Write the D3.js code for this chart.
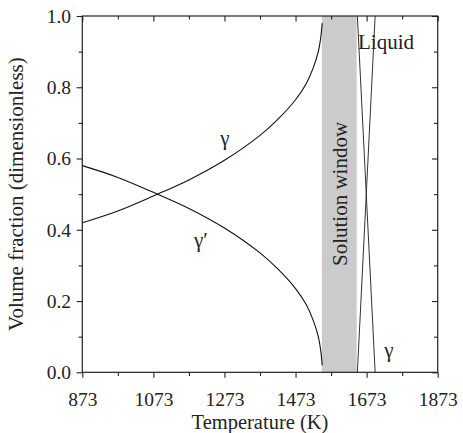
<!DOCTYPE html>
<html>
<head>
<meta charset="utf-8">
<script src="https://cdn.jsdelivr.net/npm/d3@7"></script>
<style>
    body { margin: 0; background: #fff; }
    svg { display: block; }
    svg text { font-family: "Liberation Serif", "Times New Roman", "DejaVu Serif", serif; }
    .axis path, .axis line { stroke: #222; stroke-width: 1.1; }
    .axis text { font-size: 19.5px; fill: #222; }
</style>
</head>
<body>
<div class="chart"></div>
<script>
// values
const gammaT = [873, 973, 1073, 1173, 1273, 1373, 1423, 1473, 1503, 1523, 1537, 1544, 1548];
const gammaV = [0.42, 0.453, 0.495, 0.54, 0.595, 0.665, 0.71, 0.765, 0.81, 0.855, 0.90, 0.94, 0.98];
const gammaPrimeV = [0.58, 0.547, 0.505, 0.46, 0.405, 0.335, 0.29, 0.235, 0.19, 0.145, 0.10, 0.06, 0.02];

const solutionWindow = [1547, 1645];

const meltT = [1647, 1697];
const liquidV = [0, 1];
const gammaMeltV = [1, 0];

const xTicks = [873, 1073, 1273, 1473, 1673, 1873];
const xMinor = [973, 1173, 1373, 1573, 1773];
const yTicks = [0, 0.2, 0.4, 0.6, 0.8, 1.0];
const yMinor = [0.1, 0.3, 0.5, 0.7, 0.9];

const width = 463, height = 433;
const margin = { top: 16, right: 25.3, bottom: 60.7, left: 82.3 };

const svg = d3.select('.chart')
    .append('svg')
    .attr('width', width)
    .attr('height', height);

const x = d3.scaleLinear().domain([873, 1873]).range([margin.left, width - margin.right]);
const y = d3.scaleLinear().domain([0, 1]).range([height - margin.bottom, margin.top]);

// solution window band
svg.append('rect')
    .attr('x', x(solutionWindow[0]))
    .attr('y', y(1))
    .attr('width', x(solutionWindow[1]) - x(solutionWindow[0]))
    .attr('height', y(0) - y(1))
    .attr('fill', '#cbcbcb');

/**
 * draws one axis with major and minor ticks
 */
function drawAxis(axisFn, scale, transform, major, minor, size, fmt, pad) {
    const g = svg.append('g').attr('class', 'axis').attr('transform', transform);
    g.call(axisFn(scale).tickValues(major).tickSize(size).tickPadding(pad)
        .tickFormat(fmt ? d3.format(fmt) : ''));
    g.attr('font-family', null);
    g.select('.domain').remove();
    const m = svg.append('g').attr('class', 'axis').attr('transform', transform);
    m.call(axisFn(scale).tickValues(minor).tickSize(size * 0.65).tickFormat(''));
    m.select('.domain').remove();
    return g;
}

const bottomY = y(0), topY = y(1), leftX = x(873), rightX = x(1873);
drawAxis(d3.axisBottom, x, `translate(0,${bottomY})`, xTicks, xMinor, 5.5, 'd', 14);
drawAxis(d3.axisTop, x, `translate(0,${topY})`, xTicks, xMinor, -5.5, null, 0);
drawAxis(d3.axisLeft, y, `translate(${leftX},0)`, yTicks, yMinor, 5.7, '.1f', 5.5);
drawAxis(d3.axisRight, y, `translate(${rightX},0)`, yTicks, yMinor, -5.7, null, 0);

// frame
svg.append('rect')
    .attr('x', leftX).attr('y', topY)
    .attr('width', rightX - leftX).attr('height', bottomY - topY)
    .attr('fill', 'none').attr('stroke', '#222').attr('stroke-width', 1.2);

const line = d3.line().curve(d3.curveCatmullRom.alpha(0.5));

svg.append('path')
    .attr('d', line(gammaT.map((t, i) => [x(t), y(gammaV[i])])))
    .attr('fill', 'none').attr('stroke', '#111').attr('stroke-width', 1.1);

svg.append('path')
    .attr('d', line(gammaT.map((t, i) => [x(t), y(gammaPrimeV[i])])))
    .attr('fill', 'none').attr('stroke', '#111').attr('stroke-width', 1.1);

svg.append('path')
    .attr('d', d3.line()(meltT.map((t, i) => [x(t), y(liquidV[i])])))
    .attr('fill', 'none').attr('stroke', '#333').attr('stroke-width', 1);

svg.append('path')
    .attr('d', d3.line()(meltT.map((t, i) => [x(t), y(gammaMeltV[i])])))
    .attr('fill', 'none').attr('stroke', '#333').attr('stroke-width', 1);

// labels
const label = (tx, ty, str, anchor) => svg.append('text')
    .attr('x', tx).attr('y', ty)
    .attr('text-anchor', anchor || 'start')
    .style('font-size', '21px')
    .style('fill', '#222')
    .text(str);

label(225, 145, 'γ', 'middle');
label(194, 247, 'γ′');
label(358, 49, 'Liquid');
label(389, 357, 'γ', 'middle');

svg.append('text')
    .attr('transform', `translate(346.5,194) rotate(-90)`)
    .attr('text-anchor', 'middle')
    .style('font-size', '21px')
    .style('fill', '#222')
    .text('Solution window');

svg.append('text')
    .attr('x', (leftX + rightX) / 2).attr('y', 428.5)
    .attr('text-anchor', 'middle')
    .style('font-size', '20.5px')
    .style('fill', '#222')
    .text('Temperature (K)');

svg.append('text')
    .attr('transform', `translate(23,${(topY + bottomY) / 2}) rotate(-90)`)
    .attr('text-anchor', 'middle')
    .style('font-size', '21px')
    .style('fill', '#222')
    .text('Volume fraction (dimensionless)');
</script>
</body>
</html>
